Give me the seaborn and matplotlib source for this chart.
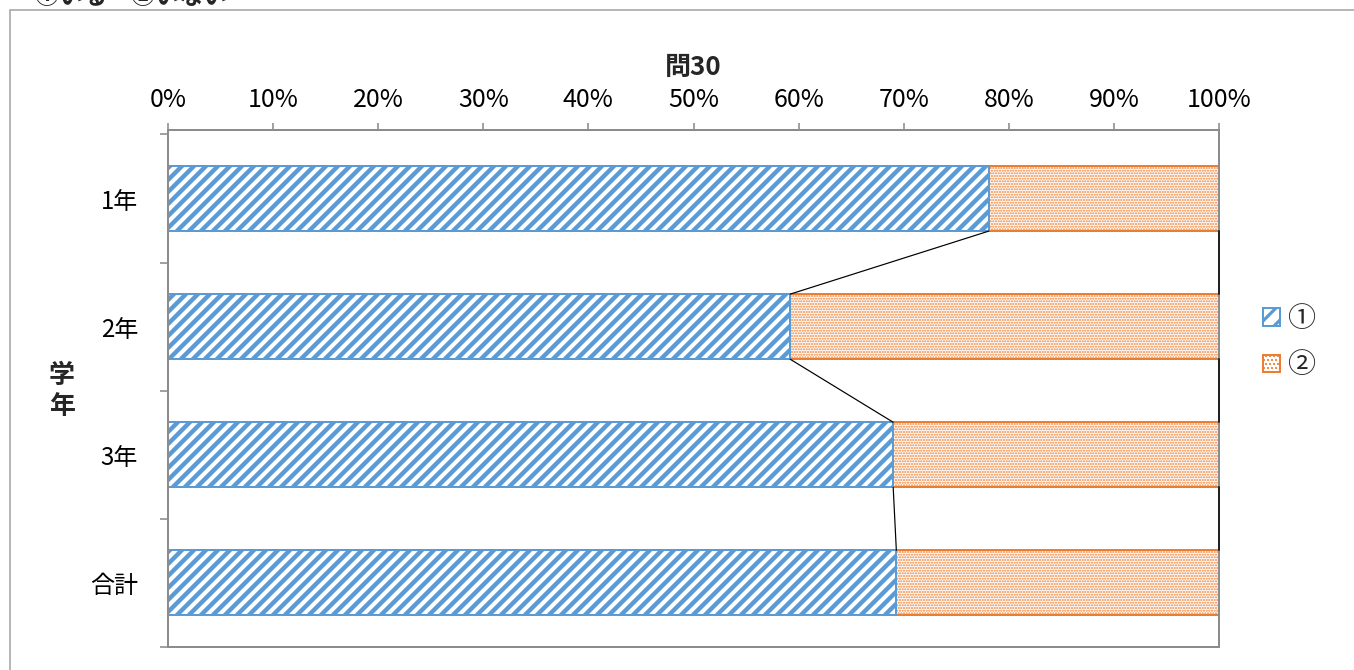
import matplotlib
matplotlib.use("Agg")
import matplotlib.pyplot as plt
from matplotlib.patches import Patch, Rectangle
import seaborn as sns
import pandas as pd

# Survey answers per grade (percent of respondents)
grades = ["1年", "2年", "3年", "合計"]
pct_yes = [78.1, 59.2, 69.0, 69.3]   # ① いる
pct_no = [21.9, 40.8, 31.0, 30.7]    # ② いない
x_ticks = [0, 10, 20, 30, 40, 50, 60, 70, 80, 90, 100]
series_names = ["①", "②"]

BLUE = "#5B9BD5"
ORANGE = "#ED7D31"
GRAY = "#8C8C8C"
W, H, DPI = 1354, 670, 144
STRIPES = "////"
DOTS = "........."
STRIPE_LW = 2.2
DOT_LW = 0.7

sns.set_theme(style="white")
plt.rcParams["font.family"] = ["Noto Sans CJK JP", "DejaVu Sans"]


def hatch_width(patch, lw):
    """Give one patch its own hatch line width at draw time."""
    if hasattr(patch, "set_hatch_linewidth"):
        patch.set_hatch_linewidth(lw)
    orig = patch.draw

    def draw(renderer):
        with plt.rc_context({"hatch.linewidth": lw}):
            orig(renderer)
    patch.draw = draw


df = pd.DataFrame({"学年": grades, "yes": pct_yes, "no": pct_no})
df["total"] = df["yes"] + df["no"]

fig = plt.figure(figsize=(W / DPI, H / DPI), dpi=DPI)
ax = fig.add_axes([168 / W, 1 - 647 / H, (1219 - 168) / W, (647 - 130) / H])

bar_w = 0.508
n = len(grades)

# ② segment: full-length bar, the ① bar is drawn over its left part
sns.barplot(data=df, y="学年", x="total", orient="h", width=bar_w,
            color=ORANGE, saturation=1, ax=ax)
for p in ax.patches[:n]:
    p.set_facecolor("white")
    p.set_edgecolor(ORANGE)
    p.set_linewidth(1.0)
    p.set_hatch(DOTS)
    hatch_width(p, DOT_LW)

sns.barplot(data=df, y="学年", x="yes", orient="h", width=bar_w,
            color=BLUE, saturation=1, ax=ax)
for p in ax.patches[n:2 * n]:
    p.set_facecolor("white")
    p.set_edgecolor(BLUE)
    p.set_linewidth(1.0)
    p.set_hatch(STRIPES)
    hatch_width(p, STRIPE_LW)

# series lines joining the segment boundaries of neighbouring bars
half = bar_w / 2
for i in range(n - 1):
    ax.plot([pct_yes[i], pct_yes[i + 1]], [i + half, i + 1 - half],
            color="black", lw=0.6, zorder=3)
    tot_a = pct_yes[i] + pct_no[i]
    tot_b = pct_yes[i + 1] + pct_no[i + 1]
    ax.plot([tot_a, tot_b], [i + half, i + 1 - half],
            color="#222222", lw=1.0, zorder=3, clip_on=False)

ax.set_xlim(0, 100)
ax.set_ylim(n - 0.5, -0.535)

ax.xaxis.tick_top()
ax.xaxis.set_label_position("top")
ax.set_xticks(x_ticks)
ax.set_xticklabels([f"{t}%" for t in x_ticks], fontsize=12.5)
ax.set_xlabel("問30", fontsize=13, fontweight="bold", labelpad=6)
ax.set_yticks([i for i in range(n)])
ax.set_yticklabels(grades, fontsize=12)
ax.set_ylabel("")
ax.tick_params(axis="x", which="major", top=True, bottom=False, length=3.5,
               width=0.8, color=GRAY, pad=5, labelcolor="black")
ax.tick_params(axis="y", which="major", left=False, pad=9, labelcolor="black")
# minor ticks mark the category boundaries on the value axis side
ax.set_yticks([i - 0.5 for i in range(n + 1)], minor=True)
ax.tick_params(axis="y", which="minor", left=True, length=4, width=0.8, color=GRAY)

for s in ax.spines.values():
    s.set_color(GRAY)
    s.set_linewidth(1.0)
    s.set_visible(True)

# category axis title, characters stacked upright
fig.text(62 / W, 1 - 391 / H, "学\n年", ha="center", va="center",
         fontsize=13, fontweight="bold", linespacing=1.2)

# legend
handles = [
    Patch(facecolor="white", edgecolor=BLUE, hatch="///", label=series_names[0]),
    Patch(facecolor="white", edgecolor=ORANGE, hatch="......", label=series_names[1]),
]
leg = fig.legend(handles=handles, loc="center left",
                 bbox_to_anchor=(1252 / W, 1 - 342 / H), frameon=False,
                 fontsize=14, handlelength=0.6, handleheight=0.6,
                 handletextpad=0.25, labelspacing=0.6, borderaxespad=0)
leg_patches = leg.get_patches()
hatch_width(leg_patches[0], 1.6)
hatch_width(leg_patches[1], DOT_LW)

# outer chart frame
fig.patches.append(Rectangle((10 / W, -0.2), 1.5, 1.2 - 10 / H,
                             transform=fig.transFigure, fill=False,
                             edgecolor="#A6A6A6", lw=0.8))

# question heading above the frame
fig.text(35 / W, 1 - 4 / H, "①いる　②いない", ha="left", va="baseline",
         fontsize=12, fontweight="bold")

fig.savefig("out.png", dpi=DPI, facecolor="white")
